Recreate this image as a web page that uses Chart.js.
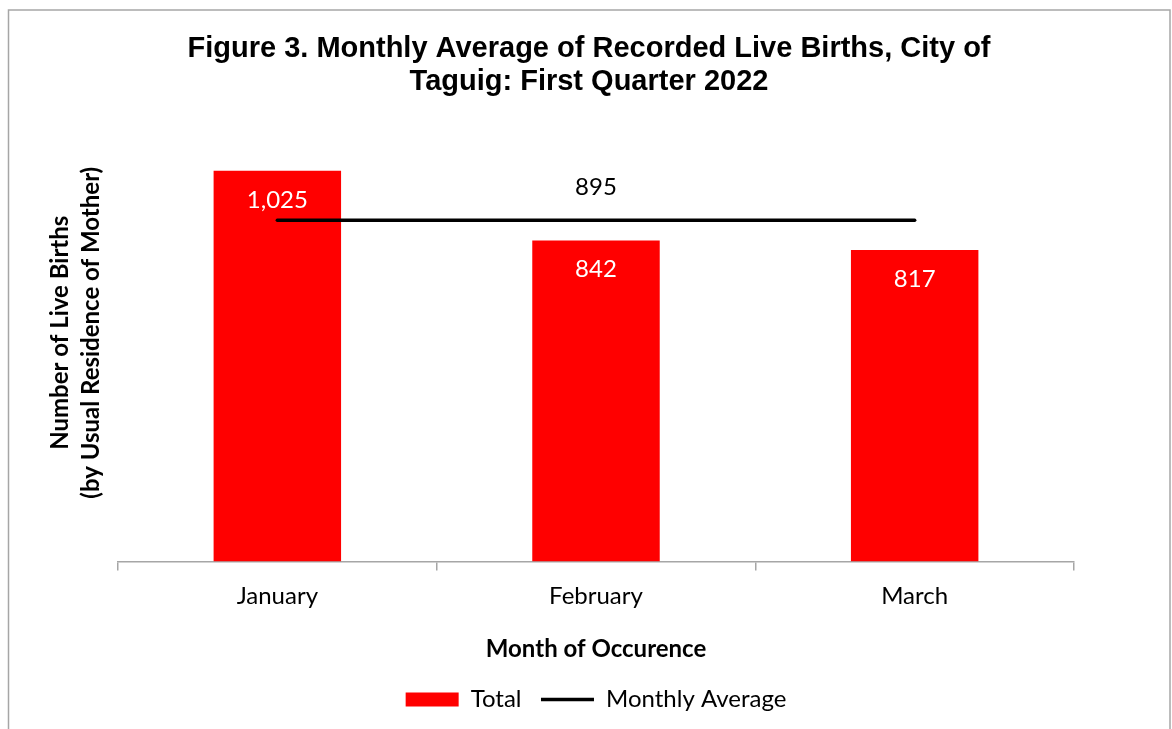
<!DOCTYPE html>
<html>
<head>
<meta charset="utf-8">
<title>Figure 3. Monthly Average of Recorded Live Births</title>
<script src="https://cdn.jsdelivr.net/npm/chart.js@4.4.1/dist/chart.umd.min.js"></script>
<style>
  html, body { margin: 0; padding: 0; background: #fff; }
  #wrap { position: relative; width: 1172px; height: 729px; }
</style>
</head>
<body>
<div id="wrap"><canvas id="chart"></canvas></div>
<script>
const MONTHS = ["January", "February", "March"];
const TOTALS = [1025, 842, 817];
const MONTHLY_AVERAGE = [895, 895, 895];
const AVERAGE_LABEL_INDEX = 1; // only the middle point carries the "895" label
const Y_MAX = 1200;

const BODY_FONT = "Lato, 'Open Sans', sans-serif";
const TITLE_FONT = "'Liberation Sans', Arial, sans-serif";

// white background + the thin grey frame around the chart
const chartFrame = {
  id: "chartFrame",
  beforeDraw(chart) {
    const ctx = chart.ctx;
    ctx.save();
    ctx.fillStyle = "#ffffff";
    ctx.fillRect(0, 0, chart.width, chart.height);
    ctx.strokeStyle = "#a6a6a6";
    ctx.lineWidth = 1.5;
    ctx.strokeRect(8.5, 10, 1161.5, 760);
    ctx.restore();
  },
};

// value labels: white inside the bars, black above the average line
const valueLabels = {
  id: "valueLabels",
  afterDatasetsDraw(chart) {
    const ctx = chart.ctx;
    ctx.save();
    ctx.font = "24px " + BODY_FONT;
    ctx.textAlign = "center";
    ctx.textBaseline = "alphabetic";
    ctx.fillStyle = "#ffffff";
    chart.getDatasetMeta(0).data.forEach((bar, i) => {
      ctx.fillText(TOTALS[i].toLocaleString("en-US"), bar.x, bar.y + 37);
    });
    const pt = chart.getDatasetMeta(1).data[AVERAGE_LABEL_INDEX];
    ctx.fillStyle = "#000000";
    ctx.fillText(MONTHLY_AVERAGE[AVERAGE_LABEL_INDEX].toLocaleString("en-US"), pt.x, pt.y - 25);
    ctx.restore();
  },
};

new Chart(document.getElementById("chart"), {
  data: {
    labels: MONTHS,
    datasets: [
      {
        type: "bar",
        label: "Total",
        data: TOTALS,
        backgroundColor: "#ff0000",
        borderWidth: 0,
        barPercentage: 0.4,
        categoryPercentage: 1,
        pointStyle: "rect",
        order: 2,
      },
      {
        type: "line",
        label: "Monthly Average",
        data: MONTHLY_AVERAGE,
        borderColor: "#000000",
        borderWidth: 3.5,
        borderCapStyle: "round",
        fill: false,
        pointRadius: 0,
        pointHoverRadius: 0,
        pointStyle: "line",
        pointBorderColor: "#000000",
        pointBorderWidth: 3.5,
        order: 1,
      },
    ],
  },
  options: {
    responsive: true,
    maintainAspectRatio: false,
    animation: false,
    layout: { padding: { top: 12, left: 20, right: 14, bottom: 7.4 } },
    plugins: {
      tooltip: { enabled: false },
      title: {
        display: true,
        text: ["Figure 3. Monthly Average of Recorded Live Births, City of", "Taguig: First Quarter 2022"],
        color: "#000000",
        font: { family: TITLE_FONT, size: 29, weight: "bold", lineHeight: 33 / 29 },
        padding: { top: 20.5, bottom: 5.5 },
      },
      legend: {
        position: "bottom",
        fullSize: false,
        labels: {
          usePointStyle: true,
          pointStyleWidth: 53,
          boxHeight: 14,
          padding: 19.5,
          color: "#000000",
          font: { family: BODY_FONT, size: 24 },
          sort: (a, b) => a.datasetIndex - b.datasetIndex,
        },
      },
    },
    scales: {
      x: {
        grid: {
          offset: true,
          drawOnChartArea: false,
          drawTicks: true,
          tickLength: 9,
          color: "#a6a6a6",
          lineWidth: 1.5,
        },
        border: { color: "#a6a6a6", width: 1.5 },
        ticks: { color: "#000000", font: { family: BODY_FONT, size: 24 }, padding: 11 },
        title: {
          display: true,
          text: "Month of Occurence",
          color: "#000000",
          font: { family: BODY_FONT, size: 24, weight: "bold" },
          padding: { top: 14, bottom: 4 },
        },
      },
      y: {
        min: 0,
        max: Y_MAX,
        ticks: { display: false },
        grid: { display: false, drawTicks: false },
        border: { display: false },
        title: {
          display: true,
          text: ["Number of Live Births", "(by Usual Residence of Mother)"],
          color: "#000000",
          font: { family: BODY_FONT, size: 24, weight: "bold", lineHeight: 1.29 },
          padding: { top: 24.5, bottom: 0 },
        },
        afterFit(axis) {
          axis.width = 98;
        },
      },
      // empty right-hand axis, only there to keep the plot right edge where the original has it
      y2: {
        type: "linear",
        position: "right",
        ticks: { display: false },
        grid: { display: false, drawTicks: false },
        border: { display: false },
        afterFit(axis) {
          axis.width = 84;
        },
      },
    },
  },
  plugins: [chartFrame, valueLabels],
});
</script>
</body>
</html>
